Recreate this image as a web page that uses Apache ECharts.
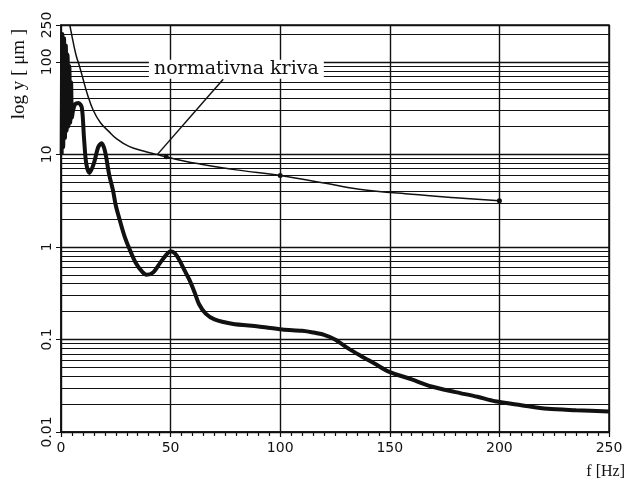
<!DOCTYPE html>
<html>
<head>
<meta charset="utf-8">
<script src="https://cdn.jsdelivr.net/npm/echarts@6/dist/echarts.min.js"></script>
<style>
  html, body { margin: 0; padding: 0; background: #fff; }
  #chart { width: 628px; height: 482px; }
</style>
</head>
<body>
<div id="chart"></div>
<script>
// frequency response (thick line)
const responseF = [0.3, 0.6, 1.0, 1.4, 1.8, 2.2, 2.6, 3.0, 3.4, 3.8, 4.2, 4.6, 5.0, 5.5, 6.5, 8, 9.5, 10.5, 11.5, 13, 15, 17, 18.5, 20, 22, 23.7, 25, 26.8, 29, 31.4, 34, 37, 39, 42, 45, 48, 50, 52, 54, 56.5, 58.6, 61, 63, 66, 70, 78, 90, 101, 110, 115, 120, 125, 131, 137, 143, 149.5, 160, 169, 180, 190, 198, 210, 222, 235, 250];
const responseY = [10, 200, 12, 180, 15, 150, 18, 120, 20, 90, 22, 60, 25, 30, 35, 36, 32, 15, 8, 6.3, 8, 12, 13.2, 11, 6, 4.1, 2.8, 1.95, 1.3, 0.93, 0.68, 0.54, 0.5, 0.53, 0.66, 0.82, 0.9, 0.85, 0.72, 0.55, 0.44, 0.32, 0.24, 0.19, 0.165, 0.148, 0.138, 0.128, 0.124, 0.119, 0.112, 0.1, 0.08, 0.066, 0.055, 0.045, 0.037, 0.031, 0.027, 0.024, 0.0215, 0.0195, 0.0178, 0.0172, 0.0167];

// normativna kriva (thin line)
const normF = [4, 5, 6, 7, 8.6, 10, 12, 14.7, 18, 22, 25, 31, 38, 43.6, 48, 55, 63, 80, 100, 120, 136, 160, 180, 200];
const normY = [250, 190, 145, 115, 87, 66, 45, 30, 22, 17.5, 15, 12.2, 10.8, 10, 9.4, 8.6, 7.9, 6.8, 5.9, 4.9, 4.2, 3.7, 3.4, 3.15];
const normDots = [48, 100, 200];

// log grid: decades and the 2..9 lines inside them
const decades = [0.01, 0.1, 1, 10, 100];
const minorSteps = [2, 3, 4, 5, 6, 7, 8, 9];

const gridLines = [];
decades.forEach(d => {
  minorSteps.forEach(m => {
    const v = +(d * m).toPrecision(3);
    if (v < 250) gridLines.push({ yAxis: v });
  });
});

const chart = echarts.init(document.getElementById('chart'), null, { renderer: 'canvas' });

const ink = '#111';
const serif = '"Liberation Serif", "DejaVu Serif", serif';

chart.setOption({
  backgroundColor: '#fff',
  animation: false,
  grid: {
    left: 61,
    right: 17,
    top: 25,
    bottom: 50,
    show: true,
    borderColor: ink,
    borderWidth: 1.5
  },
  xAxis: {
    type: 'value',
    min: 0,
    max: 250,
    interval: 50,
    name: 'f [Hz]',
    nameLocation: 'end',
    nameGap: 16,
    nameTextStyle: {
      color: ink,
      fontFamily: serif,
      fontSize: 16,
      align: 'right',
      verticalAlign: 'top',
      padding: [32, 0, 0, 0]
    },
    axisLine: { lineStyle: { color: ink, width: 1.5 } },
    axisTick: { show: true, length: 5, lineStyle: { color: ink, width: 1.2 } },
    minorTick: { show: true, splitNumber: 10, length: 4, lineStyle: { color: ink, width: 1.2 } },
    axisLabel: { color: ink, fontSize: 14, margin: 9, fontFamily: '"DejaVu Sans", sans-serif' },
    splitLine: { show: true, lineStyle: { color: ink, width: 1.4 } }
  },
  yAxis: {
    type: 'log',
    logBase: 10,
    min: 0.01,
    max: 250,
    axisLine: { lineStyle: { color: ink, width: 1.5 } },
    axisTick: { show: true, length: 5, lineStyle: { color: ink } },
    axisLabel: {
      color: ink,
      fontSize: 14,
      rotate: 90,
      margin: 7,
      fontFamily: '"DejaVu Sans", sans-serif',
      showMaxLabel: true
    },
    splitLine: { show: true, lineStyle: { color: ink, width: 1.4 } }
  },
  graphic: [
    {
      type: 'text',
      x: 19,
      y: 74,
      rotation: Math.PI / 2,
      style: {
        text: 'log y [ μm ]',
        fill: ink,
        font: '19px ' + serif,
        align: 'center',
        verticalAlign: 'middle'
      }
    }
  ],
  series: [
    {
      // minor log grid lines
      name: 'grid',
      type: 'line',
      data: [],
      z: 1,
      silent: true,
      markLine: {
        silent: true,
        symbol: 'none',
        label: { show: false },
        lineStyle: { color: ink, width: 1.2, type: 'solid' },
        data: gridLines
      }
    },
    {
      name: 'normativna kriva',
      type: 'line',
      z: 3,
      data: normF.map((f, i) => [f, normY[i]]),
      smooth: 0.4,
      lineStyle: { color: ink, width: 1.5 },
      itemStyle: { color: ink },
      symbol: 'circle',
      symbolSize: v => (normDots.includes(v[0]) ? 5 : 0),
      markLine: {
        silent: true,
        symbol: 'none',
        label: { show: false },
        lineStyle: { color: ink, width: 1.5, type: 'solid' },
        data: [[{ coord: [44, 10] }, { coord: [74, 65] }]]
      },
      markPoint: {
        silent: true,
        symbol: 'rect',
        symbolSize: 0,
        label: {
          show: true,
          position: 'inside',
          formatter: 'normativna kriva',
          color: ink,
          fontFamily: '"DejaVu Serif", serif',
          fontSize: 19,
          backgroundColor: '#fff',
          padding: [0, 5]
        },
        data: [{ coord: [80, 83] }]
      }
    },
    {
      name: 'odziv',
      type: 'line',
      z: 4,
      data: responseF.map((f, i) => [f, responseY[i]]),
      showSymbol: false,
      smooth: 0.3,
      lineStyle: { color: ink, width: 4 }
    }
  ]
});
</script>
</body>
</html>
